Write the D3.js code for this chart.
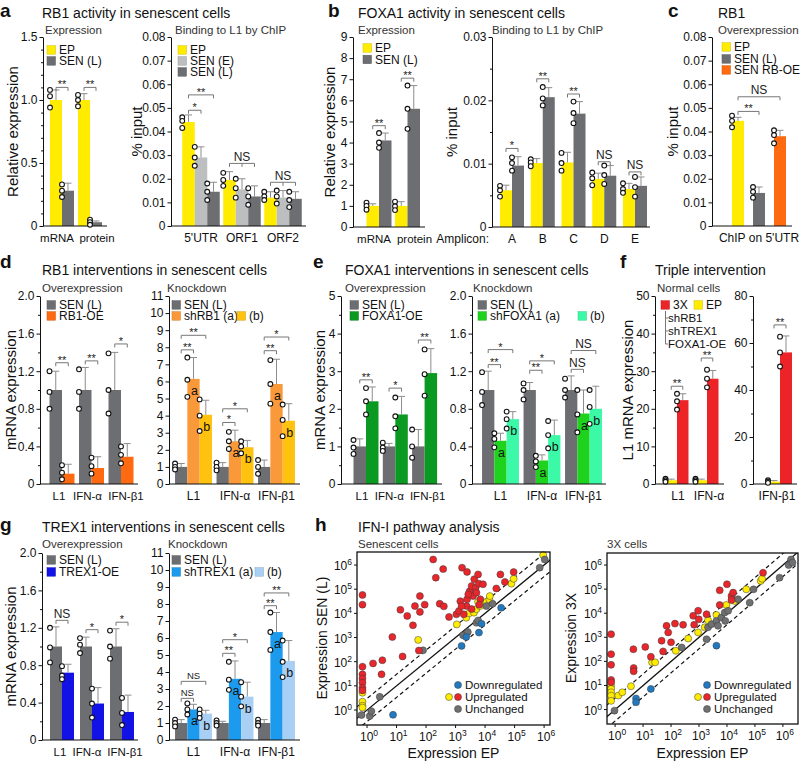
<!DOCTYPE html>
<html><head><meta charset="utf-8">
<script src="https://cdn.jsdelivr.net/npm/d3@7"></script>
<style>
body{margin:0;background:#fff;}
svg{font-family:"Liberation Sans",Arial,Helvetica,sans-serif;}
</style></head><body>
<svg id="chart" width="800" height="761"></svg>
<script>
// ================= DATA =================
// ---- a: RB1 activity in senescent cells ----
const aExprCats = ["mRNA", "protein"];
const aExprSeries = ["EP", "SEN (L)"];
const aExprMean = [[1.0, 0.28], [1.0, 0.03]];
const aExprErr = [[1.08, 0.34], [1.05, 0.04]];
const aExprDots = [[[1.08, 1.03, 0.94], [0.33, 0.28, 0.23]], [[1.04, 1.0, 0.95], [0.05, 0.03, 0.01]]];
const aExprSig = [{g:0, from:0, to:1, y:1.1, t:"**"}, {g:1, from:0, to:1, y:1.1, t:"**"}];
const aExprTicks = [0, 0.5, 1.0, 1.5];
const aExprMinor = [0.1,0.2,0.3,0.4,0.6,0.7,0.8,0.9,1.1,1.2,1.3,1.4];

const aChipCats = ["5'UTR", "ORF1", "ORF2"];
const aChipSeries = ["EP", "SEN (E)", "SEN (L)"];
const aChipMean = [[0.044, 0.029, 0.0145], [0.0195, 0.0155, 0.0125], [0.012, 0.012, 0.0115]];
const aChipErr = [[0.047, 0.0335, 0.0185], [0.023, 0.020, 0.017], [0.0145, 0.015, 0.0145]];
const aChipDots = [[[0.046, 0.0445, 0.0415], [0.0335, 0.029, 0.0255], [0.018, 0.0145, 0.011]],
                   [[0.0225, 0.0195, 0.017], [0.020, 0.016, 0.012], [0.016, 0.0125, 0.009]],
                   [[0.0145, 0.0125, 0.011], [0.015, 0.0125, 0.0095], [0.0145, 0.011, 0.008]]];
const aChipSig = [{g:0, from:0, to:1, y:0.049, t:"*"}, {g:0, from:0, to:2, y:0.0555, t:"**"},
                  {g:1, from:0, to:2, y:0.0265, t:"NS", mid:true}, {g:2, from:0, to:2, y:0.0185, t:"NS", mid:true}];
const aChipTicks = [0, 0.01, 0.02, 0.03, 0.04, 0.05, 0.06, 0.07, 0.08];

// ---- b: FOXA1 activity in senescent cells ----
const bExprCats = ["mRNA", "protein"];
const bExprSeries = ["EP", "SEN (L)"];
const bExprMean = [[1.0, 4.1], [1.0, 5.6]];
const bExprErr = [[1.1, 4.45], [1.2, 6.7]];
const bExprDots = [[[1.15, 1.0, 0.82], [4.45, 4.0, 3.75]], [[1.2, 0.98, 0.8], [6.7, 5.6, 4.65]]];
const bExprSig = [{g:0, from:0, to:1, y:4.8, t:"**"}, {g:1, from:0, to:1, y:7.05, t:"**"}];
const bExprTicks = [0, 1, 2, 3, 4, 5, 6, 7, 8, 9];

const bChipCats = ["A", "B", "C", "D", "E"];
const bChipSeries = ["EP", "SEN (L)"];
const bChipMean = [[0.0058, 0.0097], [0.0101, 0.0205], [0.0102, 0.0179], [0.0076, 0.0081], [0.006, 0.0065]];
const bChipErr = [[0.0066, 0.0111], [0.0108, 0.022], [0.0118, 0.0198], [0.0085, 0.0097], [0.0069, 0.0079]];
const bChipDots = [[[0.0065, 0.0058, 0.0048], [0.011, 0.0101, 0.0089]],
                   [[0.0107, 0.0102, 0.0096], [0.0221, 0.0203, 0.0192]],
                   [[0.0117, 0.0101, 0.0089], [0.0198, 0.018, 0.0164]],
                   [[0.0086, 0.0077, 0.0066], [0.0097, 0.0082, 0.0068]],
                   [[0.0069, 0.006, 0.0054], [0.0079, 0.0063, 0.0048]]];
const bChipSig = [{g:0, from:0, to:1, y:0.0124, t:"*"}, {g:1, from:0, to:1, y:0.0234, t:"**"},
                  {g:2, from:0, to:1, y:0.021, t:"**"}, {g:3, from:0, to:1, y:0.0103, t:"NS"},
                  {g:4, from:0, to:1, y:0.0087, t:"NS"}];
const bChipTicks = [0, 0.01, 0.02, 0.03];
const bChipMinor = [0.005, 0.015, 0.025];

// ---- c: RB1 overexpression ----
const cCats = ["ChIP on 5'UTR"];
const cSeries = ["EP", "SEN (L)", "SEN RB-OE"];
const cMean = [[0.0445, 0.014, 0.038]];
const cErr = [[0.046, 0.0165, 0.0405]];
const cDots = [[[0.0467, 0.0445, 0.0418], [0.0165, 0.0145, 0.012], [0.0405, 0.0385, 0.035]]];
const cSig = [{g:0, from:0, to:1, y:0.0485, t:"**"}, {g:0, from:0, to:2, y:0.0547, t:"NS"}];

// ---- d: RB1 interventions ----
const geneCats = ["L1", "IFN-\u03b1", "IFN-\u03b21"];
const dOeSeries = ["SEN (L)", "RB1-OE"];
const dOeMean = [[1, 0.11], [1, 0.17], [1, 0.29]];
const dOeErr = [[1.2, 0.21], [1.24, 0.29], [1.4, 0.43]];
const dOeDots = [[[1.2, 0.98, 0.8], [0.2, 0.12, 0.05]], [[1.22, 0.98, 0.8], [0.28, 0.19, 0.11]], [[1.39, 1.0, 0.75], [0.4, 0.31, 0.22]]];
const dOeSig = [{g:0, from:0, to:1, y:1.29, t:"**"}, {g:1, from:0, to:1, y:1.31, t:"**"}, {g:2, from:0, to:1, y:1.49, t:"*"}];
const relTicks = [0, 0.4, 0.8, 1.2, 1.6, 2.0];
const relMinor = [0.2, 0.6, 1.0, 1.4, 1.8];

const dKdSeries = ["SEN (L)", "shRB1 (a)", "(b)"];
const dKdMean = [[1, 6.15, 4.05], [1, 2.5, 2.15], [1, 5.85, 3.7]];
const dKdErr = [[1.2, 7.4, 4.9], [1.25, 3.15, 2.55], [1.4, 7.3, 4.7]];
const dKdDots = [[[1.2, 1.0, 0.85], [7.4, 6.1, 5.1], [4.95, 4.0, 3.1]],
                 [[1.25, 1.0, 0.8], [3.05, 2.5, 2.05], [2.5, 2.2, 1.8]],
                 [[1.4, 1.0, 0.6], [7.25, 5.85, 4.7], [4.65, 3.75, 2.8]]];
const dKdSig = [{g:0, from:0, to:1, y:7.85, t:"**"}, {g:0, from:0, to:2, y:8.7, t:"**"},
                {g:1, from:0, to:1, y:3.6, t:"*"}, {g:1, from:0, to:2, y:4.4, t:"*"},
                {g:2, from:0, to:1, y:7.8, t:"**"}, {g:2, from:0, to:2, y:8.6, t:"*"}];
const kdTicks = [0, 1, 2, 3, 4, 5, 6, 7, 8, 9, 10, 11];
const kdLetters = {1: "a", 2: "b"};

// ---- e: FOXA1 interventions ----
const eOeSeries = ["SEN (L)", "FOXA1-OE"];
const eOeMean = [[1, 2.2], [1, 1.85], [1, 2.95]];
const eOeErr = [[1.2, 2.58], [1.08, 2.33], [1.45, 3.6]];
const eOeDots = [[[1.17, 0.97, 0.8], [2.55, 2.2, 1.85]], [[1.1, 0.97, 0.88], [2.3, 1.8, 1.48]], [[1.45, 1.0, 0.7], [3.58, 2.92, 2.35]]];
const eOeSig = [{g:0, from:0, to:1, y:2.77, t:"**"}, {g:1, from:0, to:1, y:2.55, t:"*"}, {g:2, from:0, to:1, y:3.83, t:"**"}];
const eOeTicks = [0, 1, 2, 3, 4, 5];
const eOeMinor = [0.5, 1.5, 2.5, 3.5, 4.5];

const eKdSeries = ["SEN (L)", "shFOXA1 (a)", "(b)"];
const eKdMean = [[1, 0.46, 0.69], [1, 0.25, 0.52], [1, 0.75, 0.8]];
const eKdErr = [[1.2, 0.54, 0.77], [1.08, 0.31, 0.68], [1.15, 1.0, 1.04]];
const eKdDots = [[[1.19, 0.98, 0.84], [0.54, 0.48, 0.39], [0.77, 0.69, 0.59]],
                 [[1.07, 1.0, 0.9], [0.3, 0.24, 0.18], [0.67, 0.52, 0.38]],
                 [[1.12, 1.0, 0.92], [1.0, 0.74, 0.55], [1.0, 0.82, 0.64]]];
const eKdSig = [{g:0, from:0, to:1, y:1.27, t:"**"}, {g:0, from:0, to:2, y:1.43, t:"*"},
                {g:1, from:0, to:1, y:1.21, t:"**"}, {g:1, from:0, to:2, y:1.31, t:"*"},
                {g:2, from:0, to:1, y:1.22, t:"NS"}, {g:2, from:0, to:2, y:1.42, t:"NS"}];

// ---- f: Triple intervention ----
const fSeries = ["EP", "3X"];
const fCats1 = ["L1", "IFN-\u03b1"];
const fMean1 = [[1, 22.3], [1, 28]];
const fErr1 = [[1.3, 24], [1.3, 30.2]];
const fDots1 = [[[1.4, 1.0, 0.6], [24, 22, 19.8]], [[1.4, 1.0, 0.6], [30.4, 28, 25.7]]];
const fSig1 = [{g:0, from:0, to:1, y:26, t:"**"}, {g:1, from:0, to:1, y:33.5, t:"**"}];
const fTicks1 = [0, 10, 20, 30, 40, 50];
const fMinor1 = [5, 15, 25, 35, 45];
const fCats2 = ["IFN-\u03b21"];
const fMean2 = [[1, 56]];
const fErr2 = [[1.5, 63]];
const fDots2 = [[[1.6, 1.0, 0.5], [62.7, 56, 50]]];
const fSig2 = [{g:0, from:0, to:1, y:67.7, t:"**"}];
const fTicks2 = [0, 20, 40, 60, 80];
const fMinor2 = [10, 30, 50, 70];
const fTriple = ["shRB1", "shTREX1", "FOXA1-OE"];

// ---- g: TREX1 interventions ----
const gOeSeries = ["SEN (L)", "TREX1-OE"];
const gOeMean = [[1, 0.72], [1, 0.39], [1, 0.3]];
const gOeErr = [[1.21, 0.81], [1.1, 0.56], [1.19, 0.48]];
const gOeDots = [[[1.2, 0.99, 0.83], [0.79, 0.69, 0.65]], [[1.09, 1.02, 0.93], [0.55, 0.39, 0.24]], [[1.17, 1.0, 0.87], [0.45, 0.29, 0.16]]];
const gOeSig = [{g:0, from:0, to:1, y:1.28, t:"NS"}, {g:1, from:0, to:1, y:1.18, t:"*"}, {g:2, from:0, to:1, y:1.26, t:"*"}];

const gKdSeries = ["SEN (L)", "shTREX1 (a)", "(b)"];
const gKdMean = [[1, 1.8, 1.55], [1, 3.6, 2.55], [1, 6.35, 4.65]];
const gKdErr = [[1.2, 2.1, 1.75], [1.1, 4.65, 3.4], [1.2, 7.5, 5.85]];
const gKdDots = [[[1.2, 1.0, 0.8], [2.15, 1.8, 1.5], [1.8, 1.55, 1.3]],
                 [[1.15, 1.0, 0.85], [4.6, 3.55, 2.95], [3.4, 2.55, 1.98]],
                 [[1.2, 1.0, 0.85], [7.5, 6.35, 5.3], [5.85, 4.6, 3.7]]];
const gKdSig = [{g:0, from:0, to:1, y:2.45, t:"NS", small:true}, {g:0, from:0, to:2, y:3.45, t:"NS", small:true},
                {g:1, from:0, to:1, y:5.1, t:"**"}, {g:1, from:0, to:2, y:5.9, t:"*"},
                {g:2, from:0, to:1, y:7.9, t:"**"}, {g:2, from:0, to:2, y:8.65, t:"**"}];

// ---- h: IFN-I pathway analysis ([expression EP, expression other]) ----
const hClasses = ["Downregulated", "Upregulated", "Unchanged"];
const hTickExps = [0, 1, 2, 3, 4, 5, 6];
const hFold = 3;
const hSenUp = [[0.7,58000],[0.7,23000],[0.7,62],[0.7,30],[0.7,20],[0.7,13.5],[0.7,8.3],[0.7,6.5],
  [1.6,85],[3.3,115],[3.1,30],[7.2,1050],[13.5,14000],[16,165],[23,7800],[36,3200],[42,20000],[57,290],
  [62,52000],[62,11500],[90,23000],[174,1700000],[214,300000],[290,25000],[400,19500],[380,680000],
  [600,7100],[1070,9100],[1300,12600],[1660,780000],[1900,9100],[1450,32000],[2450,520000],[2450,38000],
  [2350,20000],[3000,83000],[3500,135000],[3900,52000],[4300,260000],[4800,115000],[5100,72000],
  [5800,410000],[6200,170000],[6900,38000],[8500,160000],[3500,15000],[24000,107000],[33000,410000],
  [47000,200000],[93000,510000],[6300,23000],[2700,62000],[1600,20000]];
const hSenUpYellow = [[0.7,5.2],[0.7,2.2],[0.7,1.5],[0.7,1.26],[54,800],[1100,3500],[2300,6600],[2900,10000],
  [4200,10700],[5100,15000],[5800,30000],[6600,20000],[8900,27500],[11000,30000],[14000,38000],
  [14500,52000],[78000,170000],[93000,270000],[930000,2600000]];
const hSenUnch = [[0.65,0.62],[1.23,0.56],[1.4,0.9],[2.7,3.5],[79,295],[1800,1230],[2600,1700],
  [5100,4100],[5800,5100],[11000,20000],[18000,25000],[710000,780000],[1050000,1700000]];
const hSenDown = [[7.6,0.63],[1600,450],[2300,1050],[6200,1600],[7600,3700],[35000,17000]];

const h3xUp = [[0.72,1350],[0.72,200],[0.72,72],[0.72,17],[0.72,13.5],[4.5,320],[4.6,53],[4.6,39],
  [12,400],[19,155],[46,720],[52,260],[69,3000],[79,1600],[100,620],[138,3700],[270,3300],[620,7800],
  [670,3300],[930,12600],[980,5600],[1860,9100],[5500,89000],[10000,160000],[5500,22000],[14500,52000],
  [16600,72000],[14500,35000],[195000,480000]];
const h3xUpYellow = [[0.72,9.8],[0.72,7.2],[0.72,5.2],[0.72,3.8],[0.72,2.3],[1.3,3.8],[1.8,5.2],[3.7,9.3],
  [21,91],[27,91],[148,275],[410,890],[930,1600],[1600,2600],[2100,5100],[4200,8500],[9500,22000],
  [19000,32000],[49000,98000],[160000,220000],[180000,270000]];
const h3xUnch = [[0.95,0.9],[240,380],[1860,830],[2100,2600],[2800,3500],[4200,4800],[4800,3000],
  [6300,6600],[8300,10700],[8700,4800],[11000,12600],[25000,38000],[65000,27500],[89000,98000],
  [760000,300000],[1600000,1000000],[1950000,1700000],[2200000,1260000]];
const h3xDown = [[5.6,2.9],[5.6,2.0],[19,7.2],[4200,450]];

// ================= STYLE =================
const C = {
  ep: "#ffec00", senL: "#6d6e71", senE: "#bcbec0", oe: "#ff6a10",
  shA: "#f9993a", shB: "#ffc20e", foxOe: "#0a9a22", fA: "#1ed21e", fB: "#3cf9a8",
  trexOe: "#1212e6", tA: "#1c9bee", tB: "#a9cff5", red: "#ec2428",
  sRed: "#e8262b", sYel: "#ffec00", sGrey: "#6f7072", sBlue: "#2279c0"
};
const FONT = "'Liberation Sans', Arial, Helvetica, sans-serif";
const svg = d3.select("#chart");

function txt(x, y, s, o = {}) {
  const t = svg.append("text").attr("x", x).attr("y", y).text(s)
    .attr("font-size", o.size || 12).attr("fill", o.fill || "#111");
  if (o.bold) t.attr("font-weight", "bold");
  if (o.anchor) t.attr("text-anchor", o.anchor);
  return t;
}
function ylab(x, y, s, size) {
  svg.append("text").attr("transform", `translate(${x},${y}) rotate(-90)`)
    .attr("text-anchor", "middle").attr("dy", "0.35em").attr("font-size", size || 15)
    .attr("fill", "#111").text(s);
}
const fmt1 = v => v === 0 ? "0" : d3.format(".1f")(v);
const fmt2 = v => v === 0 ? "0" : d3.format(".2f")(v);
const fmtI = v => d3.format("d")(v);

function legend(items) {
  items.forEach(it => {
    svg.append("rect").attr("x", it.x).attr("y", it.y - 4.3).attr("width", 8.5).attr("height", 8.5)
      .attr("fill", it.color).attr("stroke", d3.color(it.color).darker(0.6)).attr("stroke-width", 0.5);
    txt(it.x + 12, it.y, it.label, {size: 12}).attr("dy", "0.36em");
  });
}

function bars(c) {
  const g = svg.append("g");
  const y = d3.scaleLinear().domain(c.domain).range([c.yBot, c.yTop]);
  const nS = c.series.length, n = c.cats.length;
  const slot = c.slot || c.barW;
  const pi = 1 - nS * slot / c.step;
  const r0 = c.first - c.step / 2;
  const x0 = d3.scaleBand().domain(c.cats).range([r0, r0 + n * c.step]).paddingInner(pi).paddingOuter(pi / 2);
  const ip = c.innerPad || 0;
  const x1 = d3.scaleBand().domain(d3.range(nS)).range([0, x0.bandwidth()]).paddingInner(ip).paddingOuter(ip / 2);
  const bw = x1.bandwidth();
  const cx = (gi, si) => x0(c.cats[gi]) + x1(si) + bw / 2;

  const recs = [];
  c.cats.forEach((cat, gi) => c.series.forEach((s, si) =>
    recs.push({gi, si, v: c.mean[gi][si], e: c.err[gi][si], d: c.dots[gi][si]})));

  const ax = d3.axisLeft(y).tickValues(c.ticks).tickFormat(c.fmt).tickSize(3.5).tickSizeOuter(0).tickPadding(2);
  const ag = g.append("g").attr("transform", `translate(${c.axisX},0)`).call(ax);
  ag.attr("font-family", FONT).attr("font-size", 12);
  ag.selectAll("text").attr("fill", "#111");
  ag.selectAll("line,path").attr("stroke", "#111");
  if (c.minor) {
    const mg = g.append("g").attr("transform", `translate(${c.axisX},0)`)
      .call(d3.axisLeft(y).tickValues(c.minor).tickFormat("").tickSize(2).tickSizeOuter(0));
    mg.select(".domain").remove();
    mg.selectAll("line").attr("stroke", "#111");
  }

  g.selectAll("rect.bar").data(recs).join("rect").attr("class", "bar")
    .attr("x", r => cx(r.gi, r.si) - bw / 2).attr("y", r => y(r.v))
    .attr("width", bw).attr("height", r => y(0) - y(r.v)).attr("fill", r => c.colors[r.si]);

  g.selectAll("path.err").data(recs).join("path").attr("class", "err")
    .attr("d", r => { const xx = cx(r.gi, r.si); return `M${xx},${y(r.v)}V${y(r.e)}M${xx - 3.5},${y(r.e)}H${xx + 3.5}`; })
    .attr("stroke", "#8d8d8d").attr("fill", "none").attr("stroke-width", 1);

  g.append("line").attr("x1", c.axisX).attr("x2", c.axisEnd).attr("y1", y(0)).attr("y2", y(0))
    .attr("stroke", "#111").attr("stroke-width", 1);

  if (c.letters) {
    g.selectAll("text.let").data(recs.filter(r => c.letters[r.si])).join("text").attr("class", "let")
      .attr("x", r => cx(r.gi, r.si) + 1).attr("y", r => y(r.v) + 16).attr("text-anchor", "middle")
      .attr("font-size", 12.5).attr("fill", "#111").text(r => c.letters[r.si]);
  }

  const dots = recs.flatMap(r => r.d.map(v => ({x: cx(r.gi, r.si) - bw / 2, v})));
  g.selectAll("circle.dot").data(dots).join("circle").attr("class", "dot")
    .attr("cx", d => d.x).attr("cy", d => y(d.v)).attr("r", 2.4)
    .attr("fill", "#fff").attr("stroke", "#111").attr("stroke-width", 1.1);

  if (c.sig) {
    g.selectAll("path.sig").data(c.sig).join("path").attr("class", "sig")
      .attr("d", s => {
        const xa = cx(s.g, s.from), xb = cx(s.g, s.to), yy = y(s.y);
        let d = `M${xa},${yy + 3.5}V${yy}H${xb}V${yy + 3.5}`;
        if (s.mid) for (let k = s.from + 1; k < s.to; k++) d += `M${cx(s.g, k)},${yy}V${yy + 3.5}`;
        return d;
      }).attr("stroke", "#777").attr("fill", "none").attr("stroke-width", 1);
    g.selectAll("text.sig").data(c.sig).join("text").attr("class", "sig")
      .attr("x", s => (cx(s.g, s.from) + cx(s.g, s.to)) / 2)
      .attr("y", s => y(s.y) + (s.t === "NS" ? -2.5 : 1))
      .attr("text-anchor", "middle").attr("fill", "#222")
      .attr("font-size", s => s.small ? 9.5 : (s.t === "NS" ? 12 : 11))
      .text(s => s.t);
  }

  const dx = c.labelDx || c.cats.map(() => 0);
  g.selectAll("text.cat").data(c.cats).join("text").attr("class", "cat")
    .attr("x", (d, i) => x0(d) + x0.bandwidth() / 2 + dx[i]).attr("y", c.yBot + 16)
    .attr("text-anchor", "middle").attr("font-size", c.catSize || 12).attr("fill", "#111").text(d => d);

  if (c.legend) legend(c.legend.map(l => ({x: l[1], y: l[2], label: c.series[l[0]], color: c.colors[l[0]]})));
}

function supLabel(sel, exp) {
  sel.append("tspan").text("10");
  sel.append("tspan").attr("dy", -5).attr("font-size", 8.5).text(exp);
}

function scatter(c) {
  const g = svg.append("g");
  const x = d3.scaleLog().domain(c.xDom).range([c.left, c.right]);
  const y = d3.scaleLog().domain(c.yDom).range([c.bottom, c.top]);
  const cid = c.id + "-clip";
  svg.append("clipPath").attr("id", cid).append("rect")
    .attr("x", c.left).attr("y", c.top).attr("width", c.right - c.left).attr("height", c.bottom - c.top);
  const ln = d3.line().x(d => x(d[0])).y(d => y(d[1]));
  const ends = [1e-2, 1e8];
  const lg = g.append("g").attr("clip-path", `url(#${cid})`);
  lg.append("path").attr("d", ln(ends.map(v => [v, v]))).attr("stroke", "#111").attr("stroke-width", 1.3).attr("fill", "none");
  lg.append("path").attr("d", ln(ends.map(v => [v, v * hFold]))).attr("stroke", "#111").attr("stroke-width", 1.2).attr("stroke-dasharray", "4,3").attr("fill", "none");
  lg.append("path").attr("d", ln(ends.map(v => [v, v / hFold]))).attr("stroke", "#111").attr("stroke-width", 1.2).attr("stroke-dasharray", "4,3").attr("fill", "none");

  const layers = [[c.yellow, C.sYel], [c.grey, C.sGrey], [c.up, C.sRed], [c.down, C.sBlue]];
  layers.forEach(([pts, col]) => {
    g.append("g").selectAll("circle").data(pts).join("circle")
      .attr("cx", d => x(d[0])).attr("cy", d => y(d[1])).attr("r", 3.5)
      .attr("fill", col).attr("stroke", "#3a3a3a").attr("stroke-width", 0.5);
  });

  g.append("rect").attr("x", c.left).attr("y", c.top).attr("width", c.right - c.left).attr("height", c.bottom - c.top)
    .attr("fill", "none").attr("stroke", "#111").attr("stroke-width", 1.3);

  hTickExps.forEach(e => {
    const v = Math.pow(10, e);
    g.append("line").attr("x1", x(v)).attr("x2", x(v)).attr("y1", c.bottom).attr("y2", c.bottom + 3).attr("stroke", "#111");
    g.append("line").attr("x1", c.left - 3).attr("x2", c.left).attr("y1", y(v)).attr("y2", y(v)).attr("stroke", "#111");
    const tx = g.append("text").attr("x", x(v) + 2).attr("y", c.bottom + 16).attr("text-anchor", "middle")
      .attr("font-size", 12).attr("fill", "#111");
    supLabel(tx, e);
    const ty = g.append("text").attr("x", c.left - 5).attr("y", y(v) + 5).attr("text-anchor", "end")
      .attr("font-size", 12).attr("fill", "#111");
    supLabel(ty, e);
  });

  const lc = [[C.sBlue], [C.sYel, C.sRed], [C.sGrey]];
  hClasses.forEach((lab, i) => {
    const yy = c.legY + i * 12;
    lc[i].forEach((col, k) => {
      g.append("circle").attr("cx", c.legX - (lc[i].length - 1 - k) * 9).attr("cy", yy).attr("r", 3.5)
        .attr("fill", col).attr("stroke", "#3a3a3a").attr("stroke-width", 0.5);
    });
    g.append("text").attr("x", c.legX + 7).attr("y", yy).attr("dy", "0.36em").attr("font-size", 11.5)
      .attr("fill", "#111").text(lab);
  });
}

// ================= DRAW =================
[["a",0,17],["b",328,17],["c",668,17],["d",0,268],["e",313,268],["f",620,268],["g",0,531],["h",315,531]]
  .forEach(p => txt(p[1], p[2], p[0], {size: 19, bold: true}));
[["RB1 activity in senescent cells",42,18],["FOXA1 activity in senescent cells",358,18],["RB1",718,18],
 ["RB1 interventions in senescent cells",42,275],["FOXA1 interventions in senescent cells",345,275],
 ["Triple intervention",655,275],["TREX1 interventions in senescent cells",42,532],["IFN-I pathway analysis",358,532]]
  .forEach(p => txt(p[1], p[2], p[0], {size: 14}));
[["Expression",45,34],["Binding to L1 by ChIP",175,34],["Expression",358,34],["Binding to L1 by ChIP",492,34],
 ["Overexpression",718,34],["Overexpression",42,292],["Knockdown",167,292],["Overexpression",345,292],
 ["Knockdown",473,292],["Normal cells",657,292],["Overexpression",42,548],["Knockdown",168,548],
 ["Senescent cells",358,548],["3X cells",607,548]]
  .forEach(p => txt(p[1], p[2], p[0], {size: 11.5, fill: "#333"}));

// a
bars({axisX:43, axisEnd:107, yTop:37, yBot:226, domain:[0,1.5], ticks:aExprTicks, minor:aExprMinor, fmt:fmt1,
  cats:aExprCats, series:aExprSeries, mean:aExprMean, err:aExprErr, dots:aExprDots, sig:aExprSig,
  colors:[C.ep, C.senL], first:62, step:28, barW:12, legend:[[0,47,50],[1,47,61]],
  labelDx:[-5, 7], catSize:11.5});
ylab(12.5, 131.5, "Relative expression");
bars({axisX:171, axisEnd:306, yTop:37, yBot:226, domain:[0,0.08], ticks:aChipTicks, fmt:fmt2,
  cats:aChipCats, series:aChipSeries, mean:aChipMean, err:aChipErr, dots:aChipDots, sig:aChipSig,
  colors:[C.ep, C.senE, C.senL], first:201, step:41, barW:12.5, legend:[[0,178,50],[1,178,61],[2,178,72]]});
ylab(137, 131.5, "% input");

// b
bars({axisX:353, axisEnd:425, yTop:37, yBot:227, domain:[0,9], ticks:bExprTicks, fmt:fmtI,
  cats:bExprCats, series:bExprSeries, mean:bExprMean, err:bExprErr, dots:bExprDots, sig:bExprSig,
  colors:[C.ep, C.senL], first:379, step:28.5, barW:12.5, legend:[[0,363,48],[1,363,59.5]],
  labelDx:[-5, 7], catSize:11.5});
ylab(330, 132, "Relative expression");
bars({axisX:492, axisEnd:650, yTop:37, yBot:227, domain:[0,0.03], ticks:bChipTicks, minor:bChipMinor, fmt:fmt2,
  cats:bChipCats, series:bChipSeries, mean:bChipMean, err:bChipErr, dots:bChipDots, sig:bChipSig,
  colors:[C.ep, C.senL], first:512, step:30.75, barW:12});
ylab(452, 132, "% input");
txt(489, 243, "Amplicon:", {size: 12, anchor: "end"});

// c
bars({axisX:712, axisEnd:792, yTop:37, yBot:226, domain:[0,0.08], ticks:aChipTicks, fmt:fmt2,
  cats:cCats, series:cSeries, mean:cMean, err:cErr, dots:cDots, sig:cSig,
  colors:[C.ep, C.senL, C.oe], first:759, step:66, barW:12, slot:21, innerPad:0.43,
  legend:[[0,722,47],[1,722,59],[2,722,70]]});
ylab(673, 131.5, "% input");

// d
bars({axisX:40, axisEnd:138, yTop:296, yBot:484, domain:[0,2], ticks:relTicks, minor:relMinor, fmt:fmt1,
  cats:geneCats, series:dOeSeries, mean:dOeMean, err:dOeErr, dots:dOeDots, sig:dOeSig,
  colors:[C.senL, C.oe], first:62, step:29.5, barW:12.5, legend:[[0,47,305],[1,47,316]],
  labelDx:[-3, -4, 5], catSize:11.5});
ylab(10.5, 390, "mRNA expression");
bars({axisX:169, axisEnd:300, yTop:296, yBot:484, domain:[0,11], ticks:kdTicks, fmt:fmtI,
  cats:geneCats, series:dKdSeries, mean:dKdMean, err:dKdErr, dots:dKdDots, sig:dKdSig, letters:kdLetters,
  colors:[C.senL, C.shA, C.shB], first:193.5, step:41.5, barW:12.3, legend:[[0,172,305],[1,172,316],[2,237,316]]});

// e
bars({axisX:341, axisEnd:442, yTop:296, yBot:484, domain:[0,5], ticks:eOeTicks, minor:eOeMinor, fmt:fmtI,
  cats:geneCats, series:eOeSeries, mean:eOeMean, err:eOeErr, dots:eOeDots, sig:eOeSig,
  colors:[C.senL, C.foxOe], first:366, step:29.3, barW:12.5, legend:[[0,350,305],[1,350,316]],
  labelDx:[-4, -6, 3], catSize:11.5});
ylab(320, 390, "mRNA expression");
bars({axisX:472, axisEnd:606, yTop:296, yBot:484, domain:[0,2], ticks:relTicks, minor:relMinor, fmt:fmt1,
  cats:geneCats, series:eKdSeries, mean:eKdMean, err:eKdErr, dots:eKdDots, sig:eKdSig, letters:kdLetters,
  colors:[C.senL, C.fA, C.fB], first:500.5, step:41.5, barW:12.3, legend:[[0,478,305],[1,478,316],[2,578,316]]});

// f
bars({axisX:655, axisEnd:724, yTop:296, yBot:484, domain:[0,50], ticks:fTicks1, minor:fMinor1, fmt:fmtI,
  cats:fCats1, series:fSeries, mean:fMean1, err:fErr1, dots:fDots1, sig:fSig1,
  colors:[C.ep, C.red], first:677, step:30, barW:11.5, legend:[[1,661,305],[0,694,305]],
  labelDx:[1, 2]});
bars({axisX:753, axisEnd:797, yTop:296, yBot:484, domain:[0,80], ticks:fTicks2, minor:fMinor2, fmt:fmtI,
  cats:fCats2, series:fSeries, mean:fMean2, err:fErr2, dots:fDots2, sig:fSig2,
  colors:[C.ep, C.red], first:780, step:30, barW:12, labelDx:[-3]});
ylab(628, 390, "L1 mRNA expression");
svg.append("path").attr("d", "M665.5,311V344H668M665.5,318H668M665.5,331H668")
  .attr("stroke", "#777").attr("fill", "none").attr("stroke-width", 1);
fTriple.forEach((s, i) => txt(668, 321.5 + i * 13.3, s, {size: 11.5}));

// g
bars({axisX:42, axisEnd:138, yTop:553, yBot:740, domain:[0,2], ticks:relTicks, minor:relMinor, fmt:fmt1,
  cats:geneCats, series:gOeSeries, mean:gOeMean, err:gOeErr, dots:gOeDots, sig:gOeSig,
  colors:[C.senL, C.trexOe], first:62, step:30, barW:12, legend:[[0,47,560],[1,47,572]],
  labelDx:[-2, -5, 3], catSize:11.5});
ylab(10.5, 646.5, "mRNA expression");
bars({axisX:169, axisEnd:300, yTop:553, yBot:740, domain:[0,11], ticks:kdTicks, fmt:fmtI,
  cats:geneCats, series:gKdSeries, mean:gKdMean, err:gKdErr, dots:gKdDots, sig:gKdSig, letters:kdLetters,
  colors:[C.senL, C.tA, C.tB], first:193.5, step:41.5, barW:12.3, legend:[[0,172,560],[1,172,572],[2,255,572]]});

// h
scatter({id:"h1", left:357, right:550, top:552, bottom:725,
  xDom:[Math.pow(10,-0.34), Math.pow(10,6.2)], yDom:[Math.pow(10,-0.62), Math.pow(10,6.54)],
  up:hSenUp, yellow:hSenUpYellow, grey:hSenUnch, down:hSenDown, legX:458, legY:685});
ylab(322, 638, "Expression SEN (L)", 14);
txt(453.5, 758, "Expression EP", {size: 14, anchor: "middle"});
scatter({id:"h2", left:607, right:798, top:553, bottom:724,
  xDom:[Math.pow(10,-0.29), Math.pow(10,6.54)], yDom:[Math.pow(10,-0.6), Math.pow(10,6.5)],
  up:h3xUp, yellow:h3xUpYellow, grey:h3xUnch, down:h3xDown, legX:707, legY:685});
ylab(571, 638, "Expression 3X", 14);
txt(702.5, 758, "Expression EP", {size: 14, anchor: "middle"});
</script>
</body></html>
